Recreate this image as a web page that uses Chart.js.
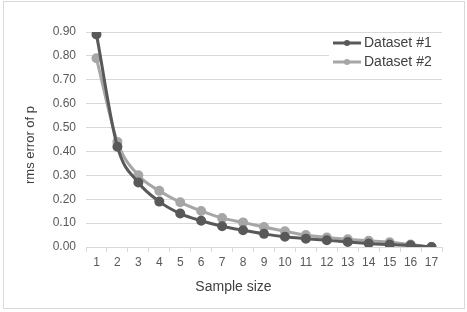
<!DOCTYPE html>
<html>
<head>
<meta charset="utf-8">
<script src="https://cdn.jsdelivr.net/npm/chart.js@4"></script>
<style>
  body { margin: 0; background: #fff; }
  #wrap { position: relative; width: 467px; height: 312px; }
  #frame { position: absolute; left: 3px; top: 1px; width: 460px; height: 306px; border: 1px solid #d9d9d9; }
  canvas { position: absolute; left: 0; top: 0; }
</style>
</head>
<body>
<div id="wrap">
  <div id="frame"></div>
  <canvas id="grafico" width="467" height="312"></canvas>
</div>
<script>
// DADOS
const sampleSizes = ['1', '2', '3', '4', '5', '6', '7', '8', '9', '10', '11', '12', '13', '14', '15', '16', '17']
const dataset1 = [0.89, 0.42, 0.27, 0.19, 0.14, 0.11, 0.087, 0.07, 0.055, 0.043, 0.035, 0.028, 0.021, 0.015, 0.01, 0.007, 0.0]
const dataset2 = [0.79, 0.44, 0.30, 0.235, 0.187, 0.151, 0.121, 0.103, 0.084, 0.066, 0.05, 0.04, 0.032, 0.026, 0.02, 0.01, 0.0]
const seriesNames = ['Dataset #1', 'Dataset #2']
const tituloX = 'Sample size'
const tituloY = 'rms error of p'

const fonte = 'Liberation Sans, Arial, sans-serif'
const corTexto = '#595959'

// legenda e titulos dos eixos desenhados por cima (estilo Excel)
const legendaPlugin = {
    id: 'legendaExcel',
    afterDraw(chart) {
        const ctx = chart.ctx
        ctx.save()
        const x0 = 333, y0 = 43, passo = 19
        ctx.fillStyle = '#fff'
        ctx.fillRect(x0 - 4, 34, 113, 37)
        chart.data.datasets.forEach(function(ds, i) {
            const y = y0 + i * passo
            ctx.strokeStyle = ds.borderColor
            ctx.lineWidth = 3
            ctx.beginPath()
            ctx.moveTo(x0, y)
            ctx.lineTo(x0 + 28, y)
            ctx.stroke()
            ctx.fillStyle = ds.borderColor
            ctx.beginPath()
            ctx.arc(x0 + 14, y, 3, 0, Math.PI * 2)
            ctx.fill()
            ctx.fillStyle = '#404040'
            ctx.font = '14px ' + fonte
            ctx.textBaseline = 'middle'
            ctx.fillText(ds.label, x0 + 31, y)
        })

        // titulo eixo X (centrado no grafico todo)
        ctx.fillStyle = '#404040'
        ctx.font = '14px ' + fonte
        ctx.textAlign = 'center'
        ctx.textBaseline = 'middle'
        ctx.fillText(tituloX, chart.width / 2, 287)

        // titulo eixo Y
        ctx.translate(30, 145)
        ctx.rotate(-Math.PI / 2)
        ctx.font = '13px ' + fonte
        ctx.fillText(tituloY, 0, 0)
        ctx.restore()
    }
}

var ctx = document.getElementById('grafico').getContext('2d')

var grafico = new Chart(ctx, {
    type: 'line',
    data: {
        labels: sampleSizes,
        datasets: [{
            label: seriesNames[0],
            data: dataset1,
            borderColor: '#595959',
            backgroundColor: '#595959',
            borderWidth: 3,
            pointRadius: 3.5,
            tension: 0.4,
            cubicInterpolationMode: 'monotone'
        }, {
            label: seriesNames[1],
            data: dataset2,
            borderColor: '#a6a6a6',
            backgroundColor: '#a6a6a6',
            borderWidth: 3,
            pointRadius: 3.5,
            tension: 0.4,
            cubicInterpolationMode: 'monotone'
        }]
    },
    options: {
        responsive: false,
        animation: false,
        layout: { padding: { left: 20, right: 25, top: 32, bottom: 14 } },
        scales: {
            x: {
                offset: true,
                grid: {
                    offset: true,
                    drawOnChartArea: false,
                    color: '#d9d9d9',
                    tickLength: 5
                },
                border: { color: '#d9d9d9' },
                ticks: { color: corTexto, font: { family: fonte, size: 12 }, maxRotation: 0, padding: 3 },
                afterFit: function(s) { s.height = 51 }
            },
            y: {
                min: 0,
                max: 0.9,
                ticks: {
                    stepSize: 0.1,
                    color: corTexto,
                    font: { family: fonte, size: 12 },
                    padding: 10,
                    callback: function(v) { return Number(v).toFixed(2) }
                },
                grid: { color: '#d9d9d9', drawTicks: false },
                border: { display: false },
                afterFit: function(s) { s.width = 66 }
            }
        },
        plugins: {
            legend: { display: false },
            tooltip: { enabled: false }
        }
    },
    plugins: [legendaPlugin]
})
</script>
</body>
</html>
